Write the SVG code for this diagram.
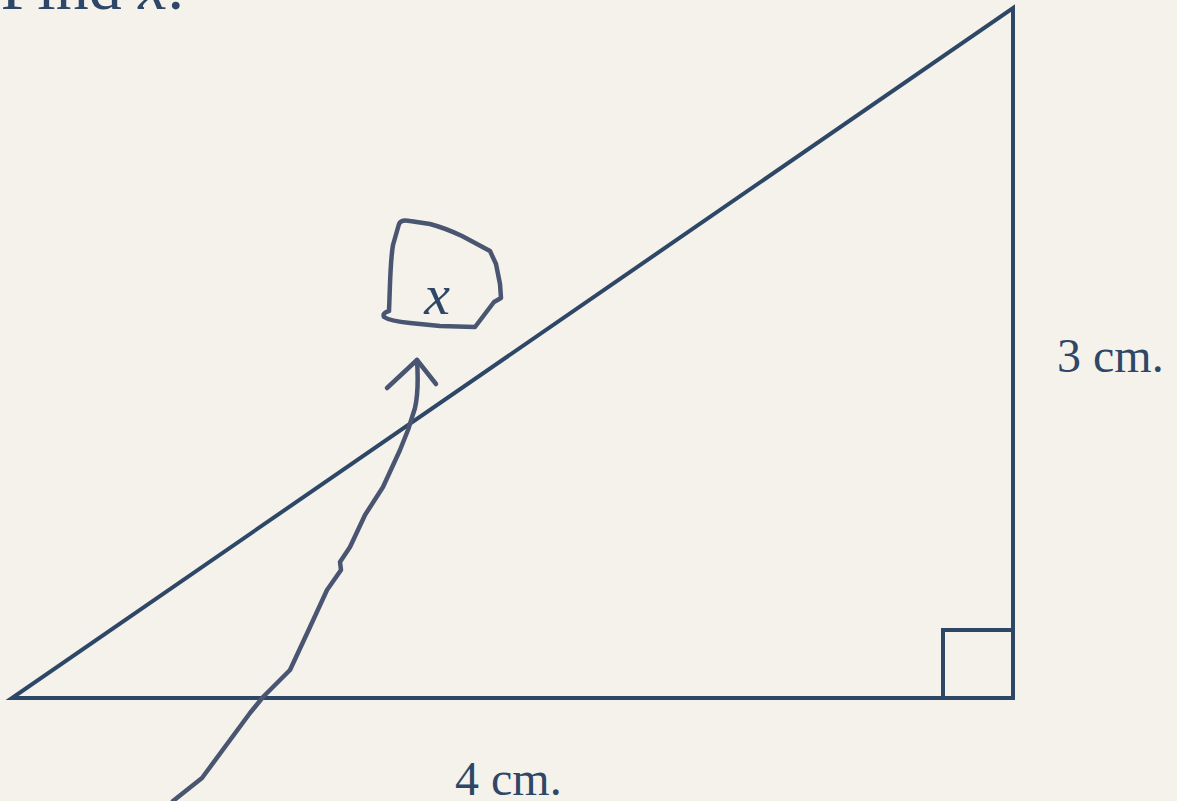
<svg xmlns="http://www.w3.org/2000/svg" width="1177" height="801" viewBox="0 0 1177 801">
<style>
.t{font-family:"Liberation Serif","DejaVu Serif",serif;fill:#2e4767}
.tri{fill:none;stroke:#2e4767;stroke-width:4;stroke-linejoin:miter}
.hand{fill:none;stroke:#4a5671;stroke-width:4.5;stroke-linecap:round;stroke-linejoin:round}
</style>
<rect width="1177" height="801" fill="#f5f2eb"/>
<g id="title"><text class="t" x="184" y="9" font-size="66" text-anchor="end">Find <tspan font-style="italic">x</tspan>.</text></g>
<g id="triangle">
<path class="tri" d="M12,698 L1013,698 L1013,8 Z"/>
<path class="tri" d="M943,698 L943,630 L1013,630"/>
</g>
<g id="label-3cm"><text class="t" x="1057" y="372" font-size="48">3 cm.</text></g>
<g id="label-4cm"><text class="t" x="455" y="795" font-size="48">4 cm.</text></g>
<g id="x-box">
<path class="hand" d="M389,311 C390,290 390,262 393,245 L399,224 Q401,219 410,221 L430,224 Q445,228 462,236 L490,251 L496,264 L500,284 L501,298 L494,302 L475,327 L440,326 L410,323 Q390,321 384,317 Q382,313 389,311"/>
<text class="t" x="437" y="314" font-size="58" font-style="italic" text-anchor="middle">x</text>
</g>
<g id="connectors">
<path class="hand" d="M173,801 L202,778 L250,713 L263,697 L290,670 L310,627 L327,590 L341,570 L340,562 L350,547 L365,515 L383,487 L400,450 L408,430 L415,408 Q419,390 417,360"/>
<path class="hand" d="M387,388 L417,360 L436,384"/>
</g>
</svg>
